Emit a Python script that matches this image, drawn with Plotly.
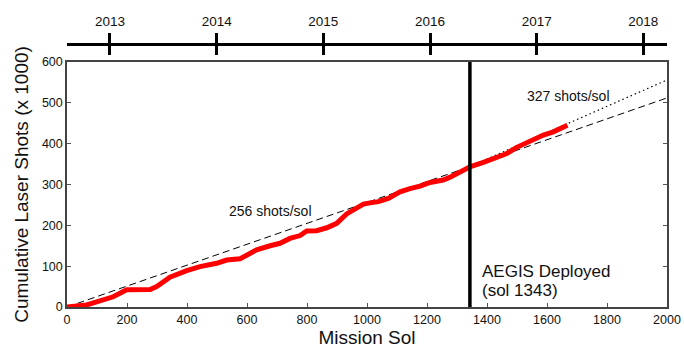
import plotly.graph_objects as go

# ---- data ----
shot_sols = [0, 30, 65, 88, 121, 154, 199, 232, 277, 299, 343, 399, 443, 499, 532, 577,
             599, 632, 677, 710, 743, 777, 799, 832, 866, 899, 932, 966, 988, 1010, 1038,
             1071, 1110, 1143, 1177, 1210, 1254, 1277, 1310, 1345, 1388, 1432, 1466, 1499,
             1543, 1588, 1621, 1643, 1668]
shot_vals = [0, 2, 5, 10, 19, 25, 42, 43, 43, 50, 73, 89, 99, 107, 115, 118,
             127, 140, 150, 156, 168, 175, 186, 187, 194, 205, 228, 244, 252, 255, 258,
             266, 282, 290, 296, 305, 311, 318, 330, 344, 354, 366, 376, 391,
             407, 421, 429, 437, 445]

fit_sols = [0, 2000]
fit_vals = [0, 512]          # 256 shots/sol
post_sols = [1343, 2000]
post_vals = [344, 556]       # 327 shots/sol

aegis_sol = 1343
aegis_span = [0, 600]

year_sols = [143, 499, 854, 1210, 1566, 1921]
year_labels = ["2013", "2014", "2015", "2016", "2017", "2018"]

FONT = "Liberation Sans, Arial, Helvetica, sans-serif"

fig = go.Figure()
fig.add_trace(go.Scatter(x=fit_sols, y=fit_vals, mode="lines",
                         line=dict(color="black", width=1, dash="7px,4px"), hoverinfo="skip"))
fig.add_trace(go.Scatter(x=post_sols, y=post_vals, mode="lines",
                         line=dict(color="black", width=1.2, dash="1.5px,3px"), hoverinfo="skip"))
fig.add_trace(go.Scatter(x=shot_sols, y=shot_vals, mode="lines",
                         line=dict(color="#ff0000", width=5)))
fig.add_trace(go.Scatter(x=[aegis_sol, aegis_sol], y=aegis_span, mode="lines",
                         line=dict(color="black", width=3.5), hoverinfo="skip"))
# invisible carriers so the top (year) axes get drawn
for ax in ("x2", "x3"):
    fig.add_trace(go.Scatter(x=year_sols, y=[0] * len(year_sols), xaxis=ax, yaxis="y",
                             mode="markers", marker=dict(opacity=0, size=1), hoverinfo="skip"))

fig.add_annotation(x=679, y=236, text="256 shots/sol", showarrow=False,
                   font=dict(size=14, color="#111", family=FONT))
fig.add_annotation(x=1672, y=517, text="327 shots/sol", showarrow=False,
                   font=dict(size=14, color="#111", family=FONT))
fig.add_annotation(x=1377, y=88, text="AEGIS Deployed", showarrow=False, xanchor="left",
                   font=dict(size=17, color="#111", family=FONT))
fig.add_annotation(x=1377, y=41, text="(sol 1343)", showarrow=False, xanchor="left",
                   font=dict(size=17, color="#111", family=FONT))

W, H = 684, 349
mt, mb = 10, 42
ph = H - mt - mb
ytop = (307 - 62) / ph
ypos = (307 - 43.5) / ph

fig.update_layout(
    width=W, height=H,
    margin=dict(l=67, r=17, t=mt, b=mb, autoexpand=False),
    paper_bgcolor="white", plot_bgcolor="white",
    showlegend=False,
    font=dict(family=FONT, color="#111"),
    xaxis=dict(range=[0, 2000], tickvals=[0, 200, 400, 600, 800, 1000, 1200, 1400, 1600, 1800, 2000],
               ticks="inside", ticklen=4, tickcolor="#555", tickwidth=1, automargin=False,
               showline=True, linecolor="#444", linewidth=1.5, mirror=True,
               showgrid=False, zeroline=False, tickfont=dict(size=12.5, color="#111"),
               title=dict(text="Mission Sol", font=dict(size=19, color="#111"), standoff=3)),
    yaxis=dict(range=[0, 600], domain=[0, ytop], tickvals=[0, 100, 200, 300, 400, 500, 600],
               ticks="inside", ticklen=4, tickcolor="#555", tickwidth=1, automargin=False,
               showline=True, linecolor="#444", linewidth=1.5, mirror="ticks",
               showgrid=False, zeroline=False, tickfont=dict(size=12.5, color="#111"),
               title=dict(text="Cumulative Laser Shots (x 1000)", font=dict(size=19, color="#111"),
                          standoff=8)),
    xaxis2=dict(range=[0, 2000], overlaying="x", side="top", anchor="free", position=ypos,
                tickvals=year_sols, ticktext=year_labels, ticks="outside", ticklen=10,
                tickwidth=3, tickcolor="black", showline=True, linecolor="black", linewidth=3,
                showgrid=False, zeroline=False, automargin=False, ticklabelstandoff=1,
                tickfont=dict(size=13.5, color="#111")),
    xaxis3=dict(range=[0, 2000], overlaying="x", side="top", anchor="free", position=ypos,
                tickvals=year_sols, showticklabels=False, ticks="inside", ticklen=10,
                tickwidth=3, tickcolor="black", showline=False, automargin=False,
                showgrid=False, zeroline=False),
)

fig.write_html("out.html",
               config={"displayModeBar": False},
               post_script="document.body.style.margin='0';document.body.style.overflow='hidden';")
